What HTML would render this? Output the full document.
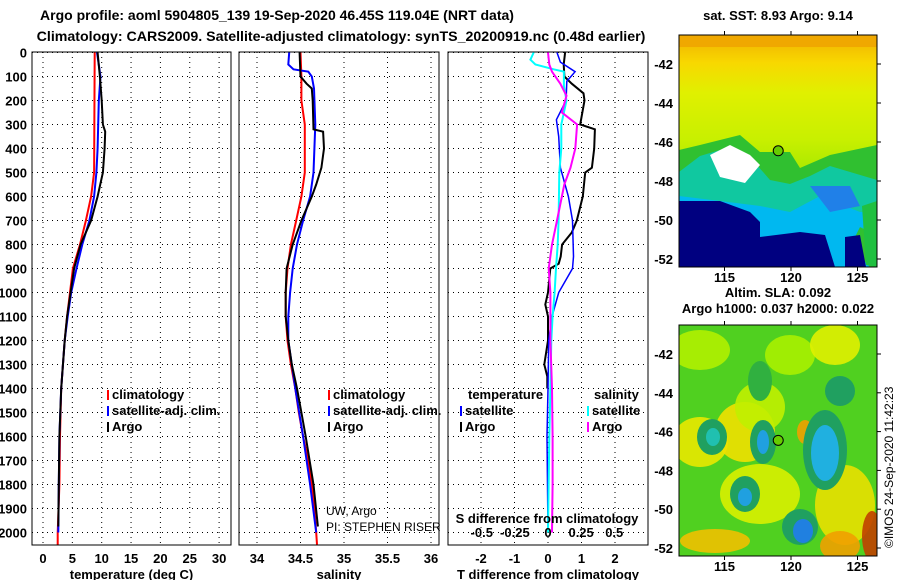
<!DOCTYPE html>
<html><head><meta charset="utf-8"><style>
body{margin:0;background:#fff;width:900px;height:580px;overflow:hidden;font-family:"Liberation Sans",sans-serif}
svg text{font-family:"Liberation Sans",sans-serif;font-weight:bold;font-size:13px;fill:#000}
</style></head><body>
<svg id="c" width="900" height="580" xmlns="http://www.w3.org/2000/svg">
<text x="277" y="20" text-anchor="middle" style="font-size:14px">Argo profile: aoml 5904805_139 19-Sep-2020 46.45S 119.04E (NRT data)</text>
<text x="341" y="41" text-anchor="middle" style="font-size:14.2px">Climatology: CARS2009. Satellite-adjusted climatology: synTS_20200919.nc (0.48d earlier)</text>
<text x="778" y="20" text-anchor="middle">sat. SST: 8.93 Argo: 9.14</text>
<text x="778" y="297" text-anchor="middle">Altim. SLA: 0.092</text>
<text x="778" y="313" text-anchor="middle">Argo h1000: 0.037 h2000: 0.022</text>
<text transform="translate(893,548) rotate(-90)" style="font-weight:normal;font-size:12px">©IMOS 24-Sep-2020 11:42:23</text>
<g id="maps"></g>
<g id="panels"></g>
</svg>
<script>
// ---- data ----
const depthClimT=[0,500,600,700,800,900,1000,1100,1200,1400,1600,1800,2000,2050];
const tempClim=[8.8,8.7,8.2,7.3,6.3,5.1,4.6,4.1,3.7,3.1,2.9,2.8,2.5,2.5];
const depthSatT=[0,100,200,400,500,600,700,800,900,1000,1100,1200,1400,1600,1800,2000];
const tempSat=[9.2,9.8,9.5,9.3,9.1,8.7,7.9,6.7,5.7,4.8,4.2,3.7,3.1,2.8,2.7,2.6];
const depthArgoT=[0,100,200,300,330,400,500,600,700,800,900,1000,1100,1200,1400,1600,1800,1975];
const tempArgo=[9.3,9.7,10.0,10.2,10.6,10.5,10.2,9.3,8.2,6.4,5.3,4.7,4.1,3.7,3.1,2.8,2.7,2.6];

const depthClimS=[0,100,200,300,500,600,700,800,900,1000,1100,1200,1300,1400,1500,1600,1700,1800,1900,2000,2050];
const salClim=[34.5,34.51,34.51,34.55,34.55,34.51,34.45,34.39,34.35,34.33,34.33,34.35,34.39,34.44,34.48,34.53,34.59,34.63,34.66,34.68,34.69];
const depthSatS=[0,50,70,80,100,150,300,500,600,700,800,900,1000,1100,1200,1300,1400,1600,1800,2000];
const salSat=[34.37,34.36,34.42,34.59,34.63,34.655,34.67,34.65,34.61,34.53,34.46,34.41,34.38,34.36,34.36,34.40,34.44,34.53,34.61,34.68];
const depthArgoS=[0,100,130,150,200,320,330,400,480,550,600,700,800,900,1000,1100,1200,1300,1400,1500,1600,1800,1975];
const salArgo=[34.49,34.5,34.57,34.63,34.64,34.65,34.76,34.77,34.74,34.68,34.63,34.51,34.41,34.34,34.33,34.33,34.36,34.40,34.46,34.51,34.56,34.65,34.70];

const depthDT=[0,50,100,130,170,200,300,320,400,480,500,600,700,750,800,850,880,900,1000,1050,1100,1200,1300,1350,1400];
const dTArgo=[0.51,0.47,0.49,0.71,1.06,1.09,0.96,1.4,1.38,1.31,1.11,1.04,0.86,0.71,0.42,0.38,0.32,0.07,0,-0.08,0,0,-0.11,-0.02,-0.02];
const depthDTs=[0,40,80,120,200,280,350,480,600,700,850,900,1000,1100,1200,1400,1600,2000];
const dTSat=[0.27,0.37,0.81,0.56,0.54,0.25,0.32,0.37,0.61,0.73,0.76,0.73,0.32,0.12,0.02,0,-0.03,0];
const depthDS=[0,30,50,70,80,140,200,300,400,500,700,800,900,1000,1100,1200,1400,1600,2000];
const dSSat=[-0.108,-0.133,-0.095,0.043,0.12,0.12,0.14,0.10,0.10,0.085,0.08,0.073,0.06,0.05,0.035,0.025,0.018,0.01,0];
const depthDSa=[0,50,80,130,180,250,300,400,480,550,700,800,900,1000,1200,1400,1600,1800,2000];
const dSArgo=[0,0.01,0.03,0.093,0.14,0.105,0.22,0.206,0.17,0.123,0.068,0.03,0.005,0.018,0.018,0.03,0.035,0.035,0.03];

const depthTicks=[0,100,200,300,400,500,600,700,800,900,1000,1100,1200,1300,1400,1500,1600,1700,1800,1900,2000];
const tempTicks=[0,5,10,15,20,25,30];
const salTicks=[34,34.5,35,35.5,36];
const salTickLabels=["34","34.5","35","35.5","36"];
const dTTicks=[-2,-1,0,1,2];
const dSTicks=[-0.5,-0.25,0,0.25,0.5];
const dSTickLabels=["-0.5","-0.25","0","0.25","0.5"];
const lonTicks=[115,120,125];
const latTicks=[-42,-44,-46,-48,-50,-52];

const NS='http://www.w3.org/2000/svg';
function mk(tag,attrs,parent){const e=document.createElementNS(NS,tag);for(const k in attrs)e.setAttribute(k,attrs[k]);parent.appendChild(e);return e;}
const P=document.getElementById('panels');
const Y=d=>52.5+d*0.24;
const pTop=52,pBot=545;

function panel(x0,x1,xs,ticks,labels,name,xlabel){
  const g=mk('g',{},P);
  
  
  depthTicks.forEach(d=>{const l=mk('line',{x1:x0,x2:x1,y1:Y(d),y2:Y(d),stroke:'#000','stroke-dasharray':'1,4'},g);
    
    });
  ticks.forEach((t,i)=>{const X=xs(t);const l=mk('line',{x1:X,x2:X,y1:pTop,y2:pBot,stroke:'#000','stroke-dasharray':'1,4'},g);
    
    
    if(labels){const tx=mk('text',{x:X,y:563,'text-anchor':'middle'},g);tx.textContent=labels[i];
    
    }});
  const r=mk('rect',{x:x0,y:pTop,width:x1-x0,height:pBot-pTop,fill:'none',stroke:'#000','stroke-width':1},g);
  
  
  if(xlabel){const t=mk('text',{x:(x0+x1)/2,y:579,'text-anchor':'middle'},g);t.textContent=xlabel;
    
    }
  return g;
}
function series(g,ds,vs,xs,col,name,w){
  const pts=ds.map((d,i)=>xs(vs[i]).toFixed(1)+','+Y(d).toFixed(1)).join(' ');
  const p=mk('polyline',{points:pts,fill:'none',stroke:col,'stroke-width':w||2},g);
  
  
}
function legend(g,x,y,col,txt){
  const r=mk('rect',{x:x,y:y-9,width:2,height:10,fill:col},g);
  
  
  const t=mk('text',{x:x+5,y:y},g);t.textContent=txt;
  
  
}
depthTicks.forEach(d=>{const t=mk('text',{x:27,y:Y(d)+5,'text-anchor':'end'},P);t.textContent=d;
  
  });

// panel 1
const xT=v=>43+v*5.87;
const g1=panel(32,231,xT,tempTicks,tempTicks.map(String),'temperature-panel','temperature (deg C)');
series(g1,depthClimT,tempClim,xT,'#f00','climatology-temp-line');
series(g1,depthSatT,tempSat,xT,'#00f','satellite-temp-line');
series(g1,depthArgoT,tempArgo,xT,'#000','argo-temp-line');
legend(g1,107,399,'#f00','climatology');legend(g1,107,415,'#00f','satellite-adj. clim.');legend(g1,107,431,'#000','Argo');

// panel 2
const xS=v=>257+(v-34)*87;
const g2=panel(239,439,xS,salTicks,salTickLabels,'salinity-panel','salinity');
series(g2,depthClimS,salClim,xS,'#f00','climatology-sal-line');
series(g2,depthSatS,salSat,xS,'#00f','satellite-sal-line');
series(g2,depthArgoS,salArgo,xS,'#000','argo-sal-line');
legend(g2,328,399,'#f00','climatology');legend(g2,328,415,'#00f','satellite-adj. clim.');legend(g2,328,431,'#000','Argo');
[['UW, Argo',515],['PI: STEPHEN RISER',531]].forEach(a=>{const t=mk('text',{x:326,y:a[1],style:'font-weight:normal;font-size:12px'},g2);t.textContent=a[0];
  
  });

// panel 3
const xD=v=>548+v*33.5;
const xDS=v=>548+v*132.5;
const g3=panel(448,648,xD,dTTicks,dTTicks.map(String),'difference-panel','T difference from climatology');
series(g3,depthDT,dTArgo,xD,'#000','argo-tdiff-line');
series(g3,depthDTs,dTSat,xD,'#00f','satellite-tdiff-line',1.5);
series(g3,depthDS,dSSat,xDS,'#0ff','satellite-sdiff-line');
series(g3,depthDSa,dSArgo,xDS,'#f0f','argo-sdiff-line');
dSTicks.forEach((t,i)=>{const tx=mk('text',{x:xDS(t),y:537,'text-anchor':'middle'},g3);tx.textContent=dSTickLabels[i];
  
  });
{const t=mk('text',{x:547,y:523,'text-anchor':'middle'},g3);t.textContent='S difference from climatology';
 
 }
{const t=mk('text',{x:468,y:399},g3);t.textContent='temperature';
 
 }
{const t=mk('text',{x:594,y:399},g3);t.textContent='salinity';
 
 }
legend(g3,460,415,'#00f','satellite');legend(g3,460,431,'#000','Argo');
legend(g3,587,415,'#0ff','satellite');legend(g3,587,431,'#f0f','Argo');

// ---- maps ----
const M=document.getElementById('maps');
const LX=v=>791+(v-120)*13.3;
function mapFrame(yTop,yBot,latY,name,shapes,labY){
  const g=mk('g',{},M);
  
  
  const cid='clip'+name;const cp=mk('clipPath',{id:cid},g);mk('rect',{x:679,y:yTop,width:198,height:yBot-yTop},cp);
  const inner=mk('g',{'clip-path':'url(#'+cid+')'},g);
  shapes(inner);
  const r=mk('rect',{x:679,y:yTop,width:198,height:yBot-yTop,fill:'none',stroke:'#000'},g);
  
  
  latTicks.forEach(l=>{const y=latY(l);const t=mk('text',{x:673,y:y+5,'text-anchor':'end'},g);t.textContent=l;
    
    
    mk('line',{x1:877,x2:881,y1:y,y2:y,stroke:'#000'},g);});
  lonTicks.forEach(l=>{const x=LX(l);const t=mk('text',{x:x,y:labY,'text-anchor':'middle'},g);t.textContent=l;
    
    
    mk('line',{x1:x,x2:x,y1:yTop-4,y2:yTop,stroke:'#000'},g);mk('line',{x1:x,x2:x,y1:yBot,y2:yBot+4,stroke:'#000'},g);});
  const c=mk('circle',{cx:LX(119.04),cy:latY(-46.45),r:5,fill:'#6c0',stroke:'#000'},g);
  
  
}
mapFrame(35,267,l=>64+(-42-l)*19.5,'sst-map',g=>{
  const d=mk('defs',{},g);
  const lg=mk('linearGradient',{id:'sstg',x1:0,y1:0,x2:0,y2:1},d);
  [['0','#f0b000'],['0.12','#f8d800'],['0.25','#e0f000'],['0.45','#c8f000'],['0.6','#a8e800'],['1','#a8e800']].forEach(s=>mk('stop',{offset:s[0],'stop-color':s[1]},lg));
  mk('rect',{x:679,y:35,width:198,height:232,fill:'url(#sstg)'},g);
  mk('rect',{x:679,y:35,width:198,height:12,fill:'#f0a800'},g);
  mk('polygon',{points:'679,150 700,145 740,135 760,152 790,152 800,168 830,155 877,145 877,267 679,267',fill:'#30c030'},g);
  mk('polygon',{points:'679,172 700,156 720,150 750,157 770,180 790,184 810,176 830,166 877,180 877,236 850,222 820,232 679,236',fill:'#10c8a0'},g);
  mk('polygon',{points:'710,155 730,145 750,155 760,165 745,183 720,177',fill:'#fff'},g);
  mk('polygon',{points:'679,196 720,201 760,206 790,212 820,196 860,212 877,212 877,232 860,227 850,247 870,267 679,267',fill:'#00b8f0'},g);
  mk('polygon',{points:'810,186 850,186 860,206 830,212',fill:'#2080e8'},g);
  mk('polygon',{points:'679,201 720,201 750,212 760,222 760,237 800,232 825,235 835,267 679,267',fill:'#000080'},g);
  mk('polygon',{points:'845,237 860,235 866,267 845,267',fill:'#000080'},g);
  mk('polygon',{points:'862,206 877,201 877,267 866,265',fill:'#20c040'},g);
},282);
mapFrame(325,556,l=>354+(-42-l)*19.4,'sla-map',g=>{
  mk('rect',{x:679,y:325,width:198,height:231,fill:'#50d020'},g);
  const bl=[[700,350,30,20,'#b0f000'],[790,355,25,20,'#a8f000'],[835,345,25,20,'#e0f000'],[700,442,28,25,'#e8e800'],[745,432,30,30,'#f0e000'],[760,494,40,30,'#d8f000'],[845,505,30,40,'#e8e000'],[715,541,35,12,'#f0c000'],[840,546,20,15,'#f0a000'],[872,536,10,25,'#c04000'],[805,432,8,12,'#f0a000'],[760,407,25,25,'#c0f000']];
  bl.forEach(b=>mk('ellipse',{cx:b[0],cy:b[1],rx:b[2],ry:b[3],fill:b[4],opacity:0.9},g));
  const dk=[[712,437,15,18,'#20a060'],[713,437,7,9,'#20c0b0'],[763,442,13,22,'#20a060'],[763,442,6,12,'#20a0e0'],[825,450,22,40,'#20a060'],[825,453,14,28,'#20b0e0'],[745,494,15,18,'#20a060'],[745,497,7,9,'#20a0e0'],[800,527,18,18,'#20a060'],[803,531,10,12,'#2080e0'],[840,391,15,15,'#20a060'],[760,381,12,20,'#30b040']];
  dk.forEach(b=>mk('ellipse',{cx:b[0],cy:b[1],rx:b[2],ry:b[3],fill:b[4]},g));
},571);
</script>
</body></html>
